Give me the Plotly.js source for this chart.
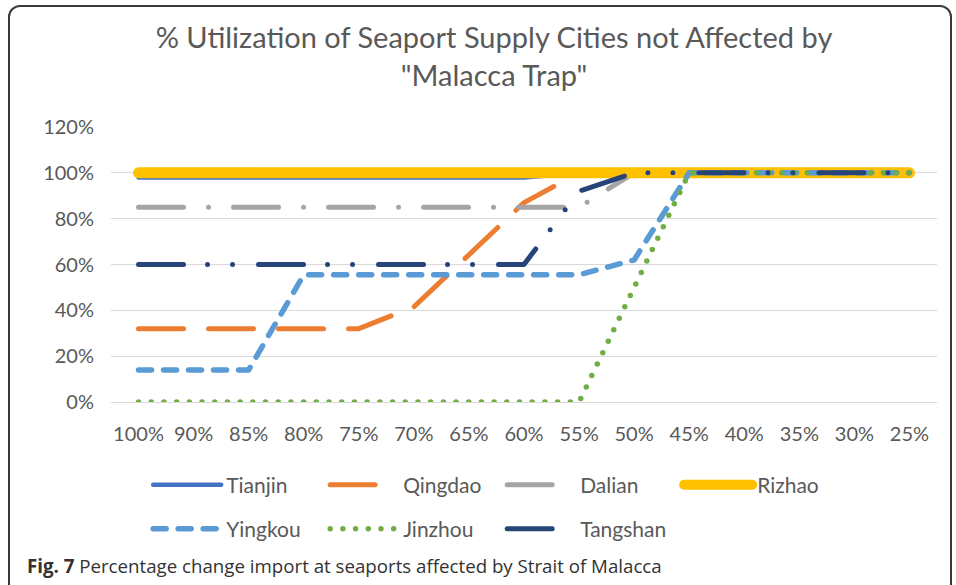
<!DOCTYPE html>
<html>
<head>
<meta charset="utf-8">
<script src="https://cdn.plot.ly/plotly-3.0.1.min.js"></script>
<style>
  html, body { margin: 0; padding: 0; background: #fff; }
  #wrap { position: relative; width: 956px; height: 585px; overflow: hidden; }
  #frame { position: absolute; left: 8px; top: 5px; width: 940px; height: 600px;
           border: 2px solid #3a3a3a; border-radius: 12px; pointer-events: none; z-index: 2; }
  #chart { position: absolute; left: 0; top: 0; width: 956px; height: 585px; }
  #chart .js-line { stroke-linecap: round; stroke-linejoin: round; }
</style>
</head>
<body>
<div id="wrap">
  <div id="chart"></div>
  <div id="frame"></div>
</div>
<script>
// ---- data ----
const categories = ['100%','90%','85%','80%','75%','70%','65%','60%','55%','50%','45%','40%','35%','30%','25%'];
const tianjin  = [0.98,0.98,0.98,0.98,0.98,0.98,0.98,0.98,1,1,1,1,1,1,1];
const qingdao  = [0.32,0.32,0.32,0.32,0.32,0.415,0.64,0.87,1,1,1,1,1,1,1];
const dalian   = [0.85,0.85,0.85,0.85,0.85,0.85,0.85,0.85,0.85,1,1,1,1,1,1];
const rizhao   = [1,1,1,1,1,1,1,1,1,1,1,1,1,1,1];
const yingkou  = [0.14,0.14,0.14,0.555,0.555,0.555,0.555,0.555,0.555,0.62,1,1,1,1,1];
const jinzhou  = [0,0,0,0,0,0,0,0,0,0.5,1,1,1,1,1];
const tangshan = [0.6,0.6,0.6,0.6,0.6,0.6,0.6,0.6,0.92,1,1,1,1,1,1];
const titleText = '% Utilization of Seaport Supply Cities not Affected by<br>"Malacca Trap"';
const captionText = '<b>Fig. 7</b> Percentage change import at seaports affected by Strait of Malacca';

function tr(name, y, color, width, dash, legend) {
  return {
    type: 'scatter', mode: 'lines', name: name, x: categories, y: y,
    line: {color: color, width: width, dash: dash},
    legend: legend, hoverinfo: 'skip'
  };
}

const traces = [
  tr('Tianjin',  tianjin,  '#4472C4', 4.5, 'solid', 'legend'),
  tr('Qingdao',  qingdao,  '#ED7D31', 5,   '45px,25px', 'legend'),
  tr('Dalian',   dalian,   '#A5A5A5', 5,   '45px,25px,0px,25px', 'legend'),
  tr('Rizhao',   rizhao,   '#FFC000', 11,  'solid', 'legend'),
  tr('Yingkou',  yingkou,  '#5B9BD5', 5.5, '13px,12px', 'legend2'),
  tr('Jinzhou',  jinzhou,  '#70AD47', 5.5, '0px,12.7px', 'legend2'),
  tr('Tangshan', tangshan, '#264478', 5,   '45px,24px,0px,25px,0px,26px', 'legend2')
];

const legendFont = {family: 'Lato, "Open Sans", sans-serif', size: 21, color: '#595959'};
function legendCfg(y) {
  return {
    orientation: 'h', x: 0.045, xanchor: 'left', y: y, yanchor: 'middle',
    entrywidth: 94, entrywidthmode: 'pixels', itemwidth: 68,
    font: legendFont, bgcolor: 'rgba(0,0,0,0)', borderwidth: 0,
    itemclick: false, itemdoubleclick: false
  };
}

const layout = {
  width: 956, height: 585,
  margin: {l: 111, r: 19, t: 127, b: 183},
  paper_bgcolor: '#ffffff', plot_bgcolor: '#ffffff',
  title: {
    text: titleText,
    font: {family: 'Lato, "Open Sans", sans-serif', size: 29, color: '#595959'},
    xref: 'paper', x: 0.4637, xanchor: 'center',
    yref: 'container', y: 0.918, yanchor: 'top'
  },
  xaxis: {
    type: 'category', range: [-0.5, 14.5],
    showgrid: false, zeroline: false,
    showline: true, linecolor: '#d9d9d9', linewidth: 1,
    ticks: '', ticklabelstandoff: 14,
    tickfont: {family: 'Lato, "Open Sans", sans-serif', size: 20, color: '#595959'},
    fixedrange: true
  },
  yaxis: {
    range: [0, 1.2], dtick: 0.2, tick0: 0, tickformat: '.0%',
    showgrid: true, gridcolor: '#d9d9d9', gridwidth: 1,
    zeroline: false, showline: false, ticks: '', ticklabelstandoff: 16,
    tickfont: {family: 'Lato, "Open Sans", sans-serif', size: 20, color: '#595959'},
    fixedrange: true
  },
  legend: legendCfg(-0.302),
  legend2: legendCfg(-0.462),
  annotations: [{
    text: captionText, showarrow: false,
    xref: 'paper', yref: 'paper', x: -0.104, xanchor: 'left',
    y: -0.593, yanchor: 'middle',
    font: {family: '"Open Sans", sans-serif', size: 18.7, color: '#333333'}
  }],
  showlegend: true
};

Plotly.newPlot('chart', traces, layout, {displayModeBar: false, staticPlot: true});
</script>
</body>
</html>
